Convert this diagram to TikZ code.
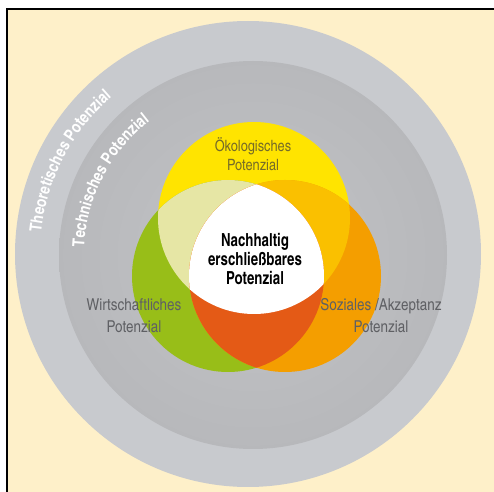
\documentclass[tikz,border=0pt]{standalone}
\usepackage{fontspec}
\setmainfont{texgyreheroscn}[Extension=.otf, UprightFont=*-regular, BoldFont=*-bold, ItalicFont=*-italic, BoldItalicFont=*-bolditalic]
\usetikzlibrary{decorations.text}

\definecolor{paper}{RGB}{254,240,201}
\definecolor{ringlight}{RGB}{200,202,206}
\definecolor{disclight}{RGB}{194,195,198}
\definecolor{discmid}{RGB}{182,183,186}
\definecolor{discdark}{RGB}{160,161,165}
\definecolor{ecoyellow}{RGB}{255,228,0}
\definecolor{econgreen}{RGB}{152,190,24}
\definecolor{socorange}{RGB}{244,158,0}
\definecolor{ecoecon}{RGB}{230,230,165}
\definecolor{ecosoc}{RGB}{250,192,0}
\definecolor{econsoc}{RGB}{228,90,22}
\definecolor{labelgray}{RGB}{95,96,100}
\definecolor{labelolive}{RGB}{118,108,40}

% lighter in the middle, darker towards the rim
\pgfdeclareradialshading{discshade}{\pgfpoint{0bp}{0bp}}{color(0bp)=(disclight); color(28bp)=(discmid); color(50bp)=(discdark)}

% the three overlapping circles
\newcommand{\ecopath}{(254,218) circle (96)}
\newcommand{\econpath}{(228,276) circle (96)}
\newcommand{\socpath}{(285,276) circle (96)}

\begin{document}
\begin{tikzpicture}[x=0.75pt, y=-0.75pt,
    ringtext/.style={decorate, decoration={text along path, text align=center,
      text={|\fontsize{12.5}{13}\selectfont\bfseries\color{white}|#1}}},
    venntext/.style={align=center, inner sep=0pt, font=\fontsize{12.3}{16.5}\selectfont},
    coretext/.style={align=center, inner sep=0pt,
      font=\fontsize{13.5}{14}\selectfont\bfseries\addfontfeatures{FakeStretch=0.9}}]
  \useasboundingbox (0,0) rectangle (494,492);
  \fill[white] (0,0) rectangle (494,492);
  \fill[paper] (7,9) rectangle (494,492);
  \draw[line width=1.5pt] (7,492) -- (7,9) -- (494,9);

  % theoretical and technical potential
  \fill[ringlight] (248,254) circle (233);
  \shade[shading=discshade] (253,255) circle (194);

  % single circles first, overlaps on top
  \fill[ecoyellow] \ecopath;
  \fill[econgreen] \econpath;
  \fill[socorange] \socpath;
  \begin{scope}
    \clip \ecopath;
    \fill[ecoecon] \econpath;
    \fill[ecosoc] \socpath;
  \end{scope}
  \begin{scope}
    \clip \econpath;
    \fill[econsoc] \socpath;
  \end{scope}
  \begin{scope}
    \clip \ecopath;
    \clip \econpath;
    \fill[white] \socpath;
  \end{scope}

  % labels on the rings
  \begin{scope}[shift={(248,254)}, x=0.75pt, y=0.75pt]
    \path[ringtext={Theoretisches Potenzial}] (185:208) arc[start angle=185, end angle=120, radius=208];
  \end{scope}
  \begin{scope}[shift={(253,255)}, x=0.75pt, y=0.75pt]
    \path[ringtext={Technisches Potenzial}] (185:169) arc[start angle=185, end angle=120, radius=169];
  \end{scope}

  \node[venntext, text=labelolive, font=\fontsize{11.7}{14.3}\selectfont] (eco) at (253,154) {Ökologisches\\Potenzial};
  \node[venntext, text=labelgray] (econ) at (134,316) {Wirtschaftliches\\Potenzial};
  \node[venntext, text=labelgray] (soc) at (381,316) {Soziales /Akzeptanz\\Potenzial};
  \node[coretext] (core) at (255,259) {Nachhaltig\\erschließbares\\Potenzial};
\end{tikzpicture}
\end{document}
